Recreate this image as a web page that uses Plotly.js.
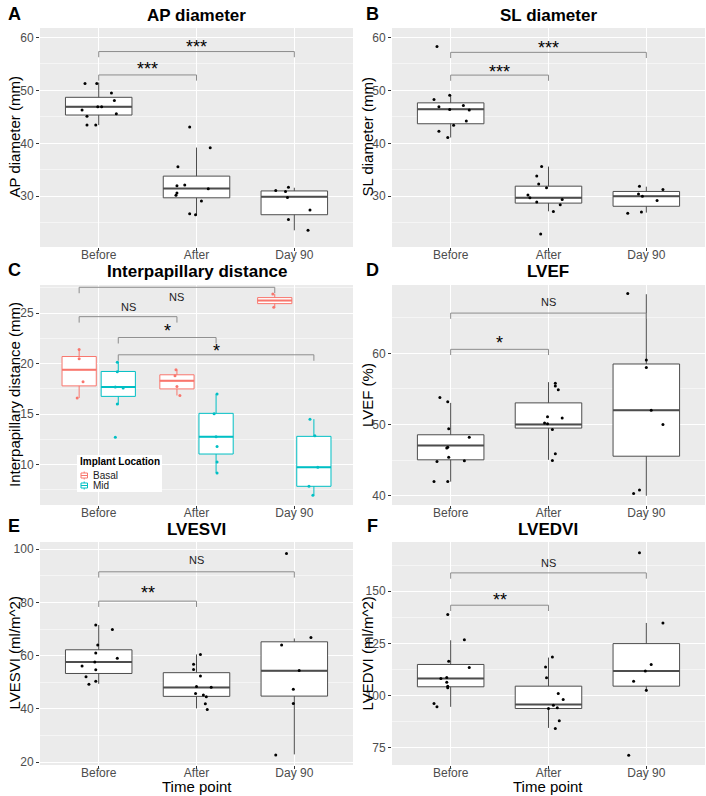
<!DOCTYPE html>
<html>
<head>
<meta charset="utf-8">
<script src="https://cdn.plot.ly/plotly-3.0.1.min.js"></script>
<style>
  html, body { margin: 0; padding: 0; background: #fff; }
  #plot { width: 706px; height: 796px; }
</style>
</head>
<body>
<div id="plot"></div>
<script>
var timePoints = ["Before", "After", "Day 90"];

// A - AP diameter
var apQ1 = [45.35, 29.7, 26.5];
var apMed = [46.9, 31.45, 29.9];
var apQ3 = [48.7, 33.8, 31.0];
var apLo = [43.45, 26.4, 23.55];
var apHi = [51.5, 39.2, 31.6];
var apBefore = [51.3, 51.3, 49.5, 48.1, 46.9, 46.9, 46.3, 45.6, 45.1, 43.45, 43.45];
var apBeforeJit = [-0.14, -0.02, 0.13, 0.16, 0.03, -0.01, -0.17, 0.18, -0.12, -0.12, -0.03];
var apAfter = [43.1, 39.15, 35.55, 32.0, 32.1, 31.4, 30.6, 30.2, 29.1, 26.7, 26.5];
var apAfterJit = [-0.07, 0.14, -0.19, -0.20, -0.12, 0.12, -0.20, -0.21, 0.05, -0.07, -0.01];
var apDay90 = [31.1, 30.9, 31.7, 29.75, 27.4, 25.6, 23.55];
var apDay90Jit = [-0.19, -0.09, -0.06, -0.07, 0.16, -0.06, 0.14];
var apSigFrom = [0, 0];
var apSigTo = [1, 2];
var apSigY = [52.93, 57.35];
var apSigText = ["***", "***"];
var apSigTextY = [54.8, 58.9];

// B - SL diameter
var slQ1 = [43.7, 28.7, 28.1];
var slMed = [46.45, 29.7, 30.0];
var slQ3 = [47.65, 31.9, 30.9];
var slLo = [41.1, 27.15, 26.9];
var slHi = [49.1, 35.6, 31.8];
var slBefore = [58.3, 48.3, 49.1, 46.9, 46.4, 47.15, 46.3, 44.2, 43.4, 42.3, 41.1];
var slBeforeJit = [-0.14, -0.17, -0.01, -0.12, -0.01, 0.13, 0.19, 0.16, 0.03, -0.12, -0.03];
var slAfter = [35.6, 33.8, 32.3, 31.6, 30.25, 29.7, 29.4, 28.9, 28.4, 27.1, 22.85];
var slAfterJit = [-0.07, -0.12, -0.10, -0.02, -0.21, -0.19, 0.14, -0.12, 0.12, 0.05, -0.08];
var slDay90 = [31.9, 31.25, 30.4, 30.0, 29.2, 26.8, 27.0];
var slDay90Jit = [-0.07, 0.17, -0.08, -0.04, 0.11, -0.19, -0.05];
var slSigFrom = [0, 0];
var slSigTo = [1, 2];
var slSigY = [52.9, 57.2];
var slSigText = ["***", "***"];
var slSigTextY = [54.2, 58.7];

// C - Interpapillary distance, by implant location
var locations = ["Basal", "Mid"];
var ipBasalQ1 = [17.8, 17.5, 25.95];
var ipBasalMed = [19.4, 18.3, 26.25];
var ipBasalQ3 = [20.71, 18.9, 26.55];
var ipBasalLo = [16.6, 16.85, 25.6];
var ipBasalHi = [21.45, 19.4, 26.9];
var ipMidQ1 = [16.76, 11.05, 7.85];
var ipMidMed = [17.68, 12.77, 9.73];
var ipMidQ3 = [19.23, 15.08, 12.8];
var ipMidLo = [15.93, 9.17, 6.97];
var ipMidHi = [20.2, 17.0, 14.5];
var ipBasalBefore = [21.4, 20.5, 18.2, 16.6];
var ipBasalBeforeJit = [0, 0, 0.04, -0.02];
var ipBasalAfter = [19.4, 18.8, 17.75, 16.85];
var ipBasalAfterJit = [-0.01, -0.02, 0, 0.03];
var ipBasalDay90 = [26.9, 25.6];
var ipBasalDay90Jit = [-0.02, -0.01];
var ipMidBefore = [20.15, 19.2, 17.7, 17.6, 16.0, 12.7];
var ipMidBeforeJit = [-0.01, -0.01, -0.03, 0.05, -0.01, -0.03];
var ipMidAfter = [17.0, 15.05, 12.75, 11.8, 10.25, 9.17];
var ipMidAfterJit = [0.01, -0.02, 0, 0.01, 0.01, 0.01];
var ipMidDay90 = [14.5, 12.85, 9.73, 7.85, 6.97];
var ipMidDay90Jit = [-0.04, 0.01, 0.04, -0.05, -0.01];
// comparisons: [time index, location index]
var ipSigFrom = [[0, 0], [0, 0], [0, 1], [0, 1]];
var ipSigTo = [[2, 0], [1, 0], [1, 1], [2, 1]];
var ipSigY = [27.57, 24.66, 22.59, 20.88];
var ipSigText = ["NS", "NS", "*", "*"];
var ipSigTextY = [26.58, 25.59, 23.67, 21.7];

// D - LVEF
var efQ1 = [45.04, 49.5, 45.55];
var efMed = [47.06, 50.02, 52.0];
var efQ3 = [48.56, 53.04, 58.5];
var efLo = [41.98, 45.04, 40.0];
var efHi = [53.04, 55.95, 68.3];
var efBefore = [53.8, 53.2, 49.4, 48.2, 46.7, 46.8, 45.4, 44.8, 44.9, 42.0, 42.0];
var efBeforeJit = [-0.11, -0.03, -0.02, 0.19, -0.04, -0.03, -0.02, -0.14, 0.14, -0.17, -0.03];
var efAfter = [55.8, 55.4, 54.9, 51.1, 50.2, 50.1, 50.9, 49.3, 45.9, 44.95];
var efAfterJit = [0.07, 0.07, 0.10, -0.01, -0.04, -0.01, 0.14, 0.04, 0.07, 0.04];
var efDay90 = [68.4, 59.06, 58.0, 52.0, 50.0, 40.8, 40.33];
var efDay90Jit = [-0.19, 0, 0, 0.05, 0.17, -0.07, -0.13];
var efSigFrom = [0, 0];
var efSigTo = [1, 2];
var efSigY = [60.56, 65.65];
var efSigText = ["*", "NS"];
var efSigTextY = [61.98, 67.2];

// E - LVESVI
var esQ1 = [53.3, 44.7, 44.8];
var esMed = [57.6, 48.06, 54.3];
var esQ3 = [62.2, 53.6, 65.2];
var esLo = [49.4, 40.2, 22.9];
var esHi = [71.5, 60.45, 66.45];
var esBefore = [71.5, 69.8, 64.0, 61.0, 59.0, 56.1, 57.6, 52.1, 54.7, 50.4, 49.3];
var esBeforeJit = [-0.03, 0.14, -0.01, -0.03, 0.19, -0.17, -0.04, -0.13, -0.03, -0.03, -0.10];
var esAfter = [60.45, 56.8, 54.8, 52.4, 48.4, 48.1, 45.8, 45.2, 44.55, 41.9, 39.8];
var esAfterJit = [0.04, -0.03, -0.03, 0.04, 0, 0.15, -0.01, 0.07, 0.10, 0.09, 0.11];
var esDay90 = [98.4, 66.8, 64.0, 54.4, 47.4, 42.05, 22.65];
var esDay90Jit = [-0.08, 0.17, -0.13, 0.05, -0.01, -0.01, -0.19];
var esSigFrom = [0, 0];
var esSigTo = [1, 2];
var esSigY = [80.48, 91.5];
var esSigText = ["**", "NS"];
var esSigTextY = [85.2, 95.9];

// F - LVEDVI
var edQ1 = [104.2, 93.8, 104.5];
var edMed = [108.2, 95.7, 111.8];
var edQ3 = [114.9, 104.5, 124.9];
var edLo = [94.6, 84.5, 101.8];
var edHi = [126.5, 118.2, 134.8];
var edBefore = [138.8, 126.8, 116.5, 113.4, 108.2, 108.6, 106.4, 104.5, 103.7, 96.2, 94.6];
var edBeforeJit = [-0.03, 0.14, -0.02, 0.19, -0.10, -0.04, -0.04, -0.03, -0.03, -0.17, -0.14];
var edAfter = [118.5, 113.7, 108.5, 101.0, 98.1, 95.4, 93.8, 94.1, 87.9, 84.2];
var edAfterJit = [0.04, -0.03, -0.02, 0.10, 0.15, 0.05, 0, 0.09, 0.11, 0.07];
var edDay90 = [168.5, 134.8, 114.9, 111.8, 106.9, 102.6, 71.4];
var edDay90Jit = [-0.07, 0.17, 0.05, -0.01, -0.13, 0, -0.18];
var edSigFrom = [0, 0];
var edSigTo = [1, 2];
var edSigY = [143.3, 158.8];
var edSigText = ["**", "NS"];
var edSigTextY = [147.8, 163.7];


var FONT = "Liberation Sans, Arial, Helvetica, sans-serif";
var BOX_LINE = "#4d4d4d";
var SIG_LINE = "#8c8c8c";
var locColors = ["#F8766D", "#00BFC4"];
var DODGE = 0.2;
var W = 706, H = 796;

var traces = [];
var annots = [];
var shapes = [];

function ax(n) {
  return n === 1 ? ["x", "y"] : ["x" + n, "y" + n];
}
// pixel -> paper helpers, only used for the legend and panel labels
function px(x) { return x / W; }
function py(y) { return 1 - y / H; }

function addBoxes(n, pos, q1, med, q3, lo, hi, width, color, name) {
  var a = ax(n);
  traces.push({
    type: "box", xaxis: a[0], yaxis: a[1],
    x: pos, q1: q1, median: med, q3: q3, lowerfence: lo, upperfence: hi,
    width: width, whiskerwidth: 0, boxpoints: false,
    fillcolor: "white", line: {color: color, width: 1},
    name: name, showlegend: false, hoverinfo: "skip"
  });
  // thicker median bar, like ggplot
  var mx = [], my = [];
  pos.forEach(function(p, i) {
    mx.push(p - width / 2, p + width / 2, null);
    my.push(med[i], med[i], null);
  });
  traces.push({
    type: "scatter", mode: "lines", xaxis: a[0], yaxis: a[1],
    x: mx, y: my, line: {color: color, width: 2},
    showlegend: false, hoverinfo: "skip"
  });
}

function addPoints(n, center, vals, jit, color) {
  var a = ax(n);
  traces.push({
    type: "scatter", mode: "markers", xaxis: a[0], yaxis: a[1],
    x: vals.map(function(v, i) { return center + jit[i]; }),
    y: vals,
    marker: {color: color, size: 3},
    showlegend: false, hoverinfo: "skip"
  });
}

function addSig(n, from, to, yLine, labels, labelY, tip) {
  var a = ax(n);
  var bx = [], by = [];
  from.forEach(function(f, i) {
    bx.push(f, f, to[i], to[i], null);
    by.push(yLine[i] - tip, yLine[i], yLine[i], yLine[i] - tip, null);
    var star = labels[i].indexOf("*") >= 0;
    annots.push({
      xref: a[0], yref: a[1], x: (f + to[i]) / 2, y: labelY[i],
      text: labels[i], showarrow: false, yanchor: "middle",
      yshift: star ? -4 : 0,
      font: {family: FONT, size: star ? 18 : 11, color: star ? "#000" : "#222"}
    });
  });
  traces.push({
    type: "scatter", mode: "lines", xaxis: a[0], yaxis: a[1],
    x: bx, y: by, line: {color: SIG_LINE, width: 1},
    showlegend: false, hoverinfo: "skip"
  });
}

// simple panels (one box per time point)
function simplePanel(n, q1, med, q3, lo, hi, before, beforeJit, after, afterJit, day90, day90Jit, sf, st, sy, stext, sty, range) {
  addBoxes(n, [0, 1, 2], q1, med, q3, lo, hi, 0.68, BOX_LINE, "box" + n);
  addPoints(n, 0, before, beforeJit, "#000");
  addPoints(n, 1, after, afterJit, "#000");
  addPoints(n, 2, day90, day90Jit, "#000");
  addSig(n, sf, st, sy, stext, sty, 0.026 * (range[1] - range[0]));
}

var rangeA = [20.4, 61.8];
var rangeB = [20.4, 61.8];
var rangeC = [6.0, 27.8];
var rangeD = [38.7, 69.6];
var rangeE = [18.9, 102.7];
var rangeF = [66.7, 173.6];

simplePanel(1, apQ1, apMed, apQ3, apLo, apHi, apBefore, apBeforeJit, apAfter, apAfterJit, apDay90, apDay90Jit,
  apSigFrom, apSigTo, apSigY, apSigText, apSigTextY, rangeA);
simplePanel(2, slQ1, slMed, slQ3, slLo, slHi, slBefore, slBeforeJit, slAfter, slAfterJit, slDay90, slDay90Jit,
  slSigFrom, slSigTo, slSigY, slSigText, slSigTextY, rangeB);
simplePanel(4, efQ1, efMed, efQ3, efLo, efHi, efBefore, efBeforeJit, efAfter, efAfterJit, efDay90, efDay90Jit,
  efSigFrom, efSigTo, efSigY, efSigText, efSigTextY, rangeD);
simplePanel(5, esQ1, esMed, esQ3, esLo, esHi, esBefore, esBeforeJit, esAfter, esAfterJit, esDay90, esDay90Jit,
  esSigFrom, esSigTo, esSigY, esSigText, esSigTextY, rangeE);
simplePanel(6, edQ1, edMed, edQ3, edLo, edHi, edBefore, edBeforeJit, edAfter, edAfterJit, edDay90, edDay90Jit,
  edSigFrom, edSigTo, edSigY, edSigText, edSigTextY, rangeF);

// panel C, dodged by location
var basalPos = [0 - DODGE, 1 - DODGE, 2 - DODGE];
var midPos = [0 + DODGE, 1 + DODGE, 2 + DODGE];
addBoxes(3, basalPos, ipBasalQ1, ipBasalMed, ipBasalQ3, ipBasalLo, ipBasalHi, 0.35, locColors[0], locations[0]);
addBoxes(3, midPos, ipMidQ1, ipMidMed, ipMidQ3, ipMidLo, ipMidHi, 0.35, locColors[1], locations[1]);
addPoints(3, basalPos[0], ipBasalBefore, ipBasalBeforeJit, locColors[0]);
addPoints(3, basalPos[1], ipBasalAfter, ipBasalAfterJit, locColors[0]);
addPoints(3, basalPos[2], ipBasalDay90, ipBasalDay90Jit, locColors[0]);
addPoints(3, midPos[0], ipMidBefore, ipMidBeforeJit, locColors[1]);
addPoints(3, midPos[1], ipMidAfter, ipMidAfterJit, locColors[1]);
addPoints(3, midPos[2], ipMidDay90, ipMidDay90Jit, locColors[1]);
var grpPos = function(g) { return g[0] + (g[1] === 0 ? -DODGE : DODGE); };
addSig(3, ipSigFrom.map(grpPos), ipSigTo.map(grpPos), ipSigY, ipSigText, ipSigTextY, 0.027 * (rangeC[1] - rangeC[0]));

// legend of panel C, drawn by hand (ggplot keys are packed tighter than plotly's legend)
shapes.push({type: "rect", xref: "paper", yref: "paper", x0: px(77), x1: px(162), y0: py(492), y1: py(455),
  fillcolor: "white", line: {width: 0}, layer: "above"});
annots.push({xref: "paper", yref: "paper", x: px(78), y: py(461.5), xanchor: "left", yanchor: "middle",
  text: "<b>Implant Location</b>", showarrow: false, font: {family: FONT, size: 10, color: "#000"}});
locations.forEach(function(loc, k) {
  var cy = 475.5 + 10 * k;
  var c = locColors[k];
  shapes.push({type: "line", xref: "paper", yref: "paper", x0: px(84.2), x1: px(84.2), y0: py(cy + 4), y1: py(cy - 4),
    line: {color: c, width: 1}, layer: "above"});
  shapes.push({type: "rect", xref: "paper", yref: "paper", x0: px(81), x1: px(87.5), y0: py(cy + 2.5), y1: py(cy - 2.5),
    fillcolor: "white", line: {color: c, width: 1}, layer: "above"});
  shapes.push({type: "line", xref: "paper", yref: "paper", x0: px(81), x1: px(87.5), y0: py(cy), y1: py(cy),
    line: {color: c, width: 1}, layer: "above"});
  annots.push({xref: "paper", yref: "paper", x: px(91), y: py(cy), xanchor: "left", yanchor: "middle",
    text: loc, showarrow: false, font: {family: FONT, size: 10, color: "#1a1a1a"}});
});


// axes
var colX = [[0.0567, 0.5], [0.5552, 0.9986]];
var rowY = [[0.6897, 0.9648], [0.3656, 0.6420], [0.0389, 0.3191]];

function xAxis(n) {
  var col = (n - 1) % 2;
  return {
    domain: colX[col], anchor: ax(n)[1], range: [-0.6, 2.6],
    tickvals: [0, 1, 2], ticktext: timePoints,
    ticks: "outside", ticklen: 3, tickcolor: "#333", ticklabelstandoff: -6,
    tickfont: {family: FONT, size: 12, color: "#4d4d4d"},
    showgrid: true, gridcolor: "white", gridwidth: 1.1,
    zeroline: false, showline: false, fixedrange: true
  };
}

function yAxis(n, range, dtick) {
  var row = Math.floor((n - 1) / 2);
  return {
    domain: rowY[row], anchor: ax(n)[0], range: range,
    tick0: 0, dtick: dtick,
    ticks: "outside", ticklen: 3, tickcolor: "#333",
    tickfont: {family: FONT, size: 12, color: "#4d4d4d"},
    showgrid: true, gridcolor: "white", gridwidth: 1.1,
    minor: {dtick: dtick / 2, showgrid: true, gridcolor: "white", gridwidth: 0.5},
    zeroline: false, showline: false, fixedrange: true
  };
}

// titles, letters, axis labels
var panelTitles = ["AP diameter", "SL diameter", "Interpapillary distance", "LVEF", "LVESVI", "LVEDVI"];
var panelLetters = ["A", "B", "C", "D", "E", "F"];
var yTitles = ["AP diameter (mm)", "SL diameter (mm)", "Interpapillary distance (mm)", "LVEF (%)", "LVESVI (ml/m^2)", "LVEDVI (ml/m^2)"];
var titleY = [py(16), py(271.5), py(529)];
var letterY = [py(14), py(270.5), py(526)];
var letterX = [px(14), px(373)];
var yTitleX = [px(15), px(368)];

for (var i = 0; i < 6; i++) {
  var col = i % 2, row = Math.floor(i / 2);
  var cx = (colX[col][0] + colX[col][1]) / 2;
  var cy = (rowY[row][0] + rowY[row][1]) / 2;
  annots.push({xref: "paper", yref: "paper", x: cx, y: titleY[row], text: "<b>" + panelTitles[i] + "</b>",
    showarrow: false, xanchor: "center", yanchor: "middle", font: {family: FONT, size: 17, color: "#000"}});
  annots.push({xref: "paper", yref: "paper", x: letterX[col], y: letterY[row], text: "<b>" + panelLetters[i] + "</b>",
    showarrow: false, xanchor: "center", yanchor: "middle", font: {family: FONT, size: 18, color: "#000"}});
  annots.push({xref: "paper", yref: "paper", x: yTitleX[col], y: cy, text: yTitles[i], textangle: -90,
    showarrow: false, xanchor: "center", yanchor: "middle", font: {family: FONT, size: 15, color: "#000"}});
  if (row === 2) {
    annots.push({xref: "paper", yref: "paper", x: cx, y: py(786), text: "Time point",
      showarrow: false, xanchor: "center", yanchor: "middle", font: {family: FONT, size: 15, color: "#000"}});
  }
}

var layout = {
  width: W, height: H, autosize: false,
  margin: {l: 0, r: 0, t: 0, b: 0},
  paper_bgcolor: "white", plot_bgcolor: "#EBEBEB",
  font: {family: FONT},
  showlegend: false,
  xaxis: xAxis(1), yaxis: yAxis(1, rangeA, 10),
  xaxis2: xAxis(2), yaxis2: yAxis(2, rangeB, 10),
  xaxis3: xAxis(3), yaxis3: yAxis(3, rangeC, 5),
  xaxis4: xAxis(4), yaxis4: yAxis(4, rangeD, 10),
  xaxis5: xAxis(5), yaxis5: yAxis(5, rangeE, 20),
  xaxis6: xAxis(6), yaxis6: yAxis(6, rangeF, 25),
  shapes: shapes,
  annotations: annots
};

Plotly.newPlot("plot", traces, layout, {staticPlot: true});
</script>
</body>
</html>
